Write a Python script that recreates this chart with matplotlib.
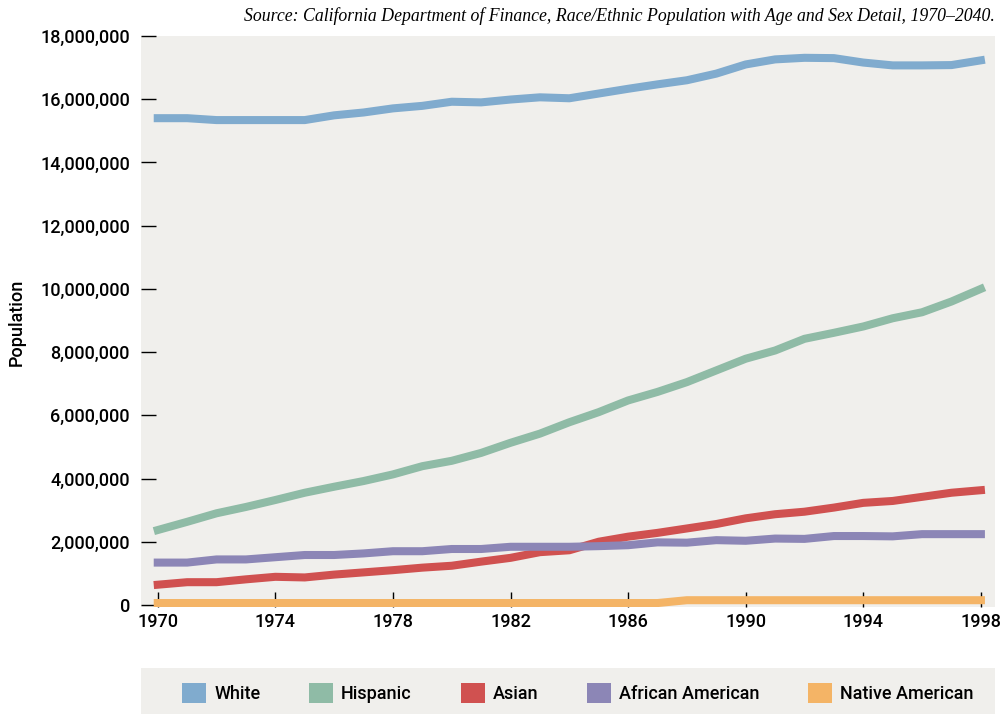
import numpy as np
import matplotlib
matplotlib.use('Agg')
import matplotlib.pyplot as plt
from matplotlib.patches import Patch, Rectangle
from matplotlib.ticker import FuncFormatter

# California population by race/ethnicity, 1970-1998
years = list(range(1970, 1999))
white = [15.40, 15.40, 15.34, 15.34, 15.34, 15.34, 15.49, 15.58, 15.71, 15.79,
         15.92, 15.90, 15.99, 16.06, 16.03, 16.18, 16.33, 16.47, 16.60, 16.81,
         17.10, 17.26, 17.31, 17.30, 17.16, 17.07, 17.07, 17.08, 17.23]
hispanic = [2.37, 2.63, 2.90, 3.10, 3.32, 3.55, 3.74, 3.92, 4.13, 4.39,
            4.56, 4.81, 5.13, 5.42, 5.78, 6.10, 6.47, 6.74, 7.05, 7.42,
            7.79, 8.05, 8.42, 8.61, 8.81, 9.07, 9.26, 9.60, 10.00]
asian = [0.64, 0.72, 0.72, 0.81, 0.89, 0.87, 0.96, 1.03, 1.10, 1.18,
         1.24, 1.37, 1.49, 1.67, 1.73, 2.00, 2.16, 2.28, 2.42, 2.56,
         2.74, 2.87, 2.95, 3.08, 3.23, 3.29, 3.42, 3.55, 3.63]
african = [1.34, 1.34, 1.44, 1.44, 1.51, 1.58, 1.58, 1.63, 1.70, 1.70,
           1.77, 1.77, 1.84, 1.84, 1.84, 1.86, 1.89, 1.98, 1.97, 2.05,
           2.03, 2.10, 2.09, 2.18, 2.18, 2.17, 2.24, 2.24, 2.24]
native = [0.06, 0.06, 0.06, 0.06, 0.06, 0.06, 0.06, 0.06, 0.06, 0.06,
          0.06, 0.06, 0.06, 0.06, 0.06, 0.06, 0.06, 0.06, 0.15, 0.15,
          0.15, 0.15, 0.15, 0.15, 0.15, 0.15, 0.15, 0.15, 0.15]

series_names = ["White", "Hispanic", "Asian", "African American", "Native American"]
series_colors = ["#80abce", "#8fbba6", "#d05150", "#8c86b6", "#f4b466"]
xtick_years = [1970, 1974, 1978, 1982, 1986, 1990, 1994, 1998]

bg = "#f0efec"
plt.rcParams['font.family'] = ['Roboto', 'DejaVu Sans']
plt.rcParams['font.size'] = 13

fig = plt.figure(figsize=(10.01, 7.14), dpi=100)
ax = fig.add_axes([141 / 1001, 1 - 607 / 714, (995 - 141) / 1001, (607 - 36) / 714])
ax.set_facecolor(bg)
for sp in ax.spines.values():
    sp.set_visible(False)

for vals, name, col in zip([white, hispanic, asian, african, native],
                           series_names, series_colors):
    ax.plot(years, np.array(vals) * 1e6, color=col, lw=5.8,
            solid_capstyle='projecting', solid_joinstyle='round', label=name)

ax.set_xlim(1969.43, 1998.48)
ax.set_ylim(-65000, 18000000)
ax.set_xticks(xtick_years)
ax.set_yticks(np.arange(0, 18000001, 2000000))
ax.yaxis.set_major_formatter(FuncFormatter(lambda v, p: "{:,.0f}".format(v)))
ax.tick_params(axis='both', direction='in', length=11, width=1, color='black',
               labelsize=13)
ax.tick_params(axis='y', pad=8)
ax.tick_params(axis='x', pad=4)
for lab in ax.get_xticklabels() + ax.get_yticklabels():
    lab.set_fontweight('medium')

fig.text(17 / 1001, 1 - 322 / 714, "Population", rotation=90, ha='center',
         va='center', fontsize=13, fontweight='medium')

fig.text(995 / 1001, 1 - 16 / 714,
         "Source: California Department of Finance, Race/Ethnic Population with Age and Sex Detail, 1970\u20132040.",
         ha='right', va='center', fontsize=12.8, style='italic',
         family=['Liberation Serif', 'DejaVu Serif'])

# legend strip
fig.patches.append(Rectangle((141 / 1001, 0), (995 - 141) / 1001, 46 / 714,
                             transform=fig.transFigure, facecolor=bg,
                             edgecolor='none', zorder=0))
handles = [Patch(facecolor=c, edgecolor='none') for c in series_colors]
fig.legend(handles, series_names, loc='center', ncol=5, frameon=False,
           bbox_to_anchor=(578 / 1001, 1 - 693 / 714),
           handlelength=1.33, handleheight=1.33, handletextpad=0.44,
           columnspacing=2.7, prop={'size': 13, 'weight': 'medium'})

fig.savefig("out.png", dpi=100, facecolor='white')
